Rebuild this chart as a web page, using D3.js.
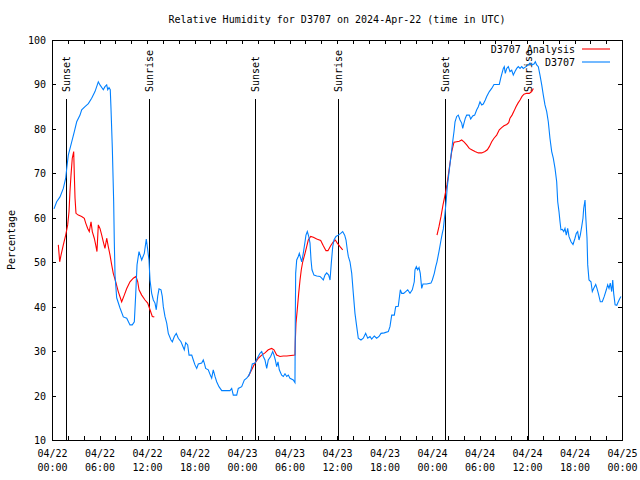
<!DOCTYPE html>
<html><head><meta charset="utf-8">
<script src="https://cdn.jsdelivr.net/npm/d3@7"></script>
<style>
body{margin:0;background:#fff}
svg text{font-family:"DejaVu Sans Mono","Liberation Mono",monospace;font-size:10px;fill:#000}
</style></head><body>
<svg id="c" width="640" height="480"></svg>
<script>
// ---- data (hours since 2024-04-22 00:00 UTC) ----
const startUTC = Date.UTC(2024, 3, 22, 0, 0);
const endUTC = Date.UTC(2024, 3, 25, 0, 0);
const yTicks = [10, 20, 30, 40, 50, 60, 70, 80, 90, 100];
const seriesNames = ["D3707 Analysis", "D3707"];
const sunEventHours = [1.8, 12.3, 25.7, 36.2, 49.7, 60.2];
const sunEventLabels = ["Sunset", "Sunrise", "Sunset", "Sunrise", "Sunset", "Sunrise"];
const sunLineTopValue = 86.7;

const stationHours = [0.25,0.59,1.01,1.43,1.73,1.86,2.06,2.49,2.82,3.12,3.54,3.75,4.17,4.59,5.01,5.43,5.85,6.06,6.48,6.69,6.91,7.04,7.20,7.36,7.45,7.62,7.79,7.87,7.96,8.17,8.59,9.01,9.44,9.85,10.14,10.40,10.57,10.74,10.99,11.33,11.66,11.91,12.09,12.25,12.38,12.59,12.80,13.01,13.17,13.35,13.52,13.77,13.93,14.06,14.27,14.49,14.69,15.03,15.20,15.45,15.70,15.95,16.29,16.55,16.71,16.89,17.14,17.31,17.65,17.85,18.06,18.28,18.48,18.91,19.11,19.24,19.41,19.74,20.00,20.17,20.37,20.59,20.80,21.09,21.44,21.85,22.48,22.70,22.90,23.33,23.53,23.96,24.29,24.59,24.88,25.14,25.30,25.64,25.93,26.27,26.49,26.69,26.90,27.12,27.32,27.62,27.88,28.04,28.21,28.38,28.55,28.71,29.01,29.22,29.43,29.65,29.85,30.06,30.48,30.69,30.73,30.78,30.91,31.11,31.24,31.41,31.54,31.74,31.96,32.08,32.25,32.43,32.59,32.72,32.84,33.09,33.44,33.85,34.07,34.27,34.48,34.70,34.95,35.12,35.28,35.46,35.62,35.87,36.16,36.47,36.72,36.97,37.14,37.30,37.43,37.64,37.86,38.06,38.27,38.49,38.69,39.03,39.32,39.62,39.88,40.17,40.38,40.71,41.01,41.31,41.56,41.97,42.48,42.69,42.91,43.24,43.41,43.74,44.00,44.17,44.42,44.68,44.93,45.22,45.51,45.76,45.85,46.02,46.19,46.36,46.52,46.70,46.86,47.33,47.87,48.04,48.29,48.47,48.63,48.88,49.14,49.30,49.43,49.64,49.80,49.93,50.06,50.36,50.61,50.78,50.91,51.12,51.32,51.54,51.75,51.88,52.04,52.21,52.38,52.71,52.89,53.14,53.39,53.65,53.85,54.06,54.28,54.48,54.73,54.91,55.24,55.54,55.83,56.17,56.50,56.68,56.84,57.01,57.13,57.26,57.44,57.64,57.85,58.07,58.27,58.48,58.70,58.90,59.12,59.33,59.53,59.87,60.16,60.38,60.63,60.88,61.05,61.22,61.43,61.64,61.86,62.06,62.27,62.49,62.69,62.90,63.12,63.32,63.54,63.75,63.88,64.04,64.17,64.29,64.46,64.64,64.80,64.96,65.14,65.30,65.56,65.81,66.06,66.23,66.40,66.57,66.73,66.91,67.07,67.16,67.33,67.41,67.58,67.67,67.83,68.08,68.25,68.42,68.68,68.84,69.01,69.26,69.51,69.76,70.02,70.19,70.36,70.52,70.70,70.83,70.95,71.13,71.34,71.53,71.74,71.87];
const stationValues = [62.0,63.6,64.7,66.6,68.9,71.1,74.1,77.1,79.4,81.6,83.1,84.3,85.0,85.7,86.9,88.4,90.6,89.9,88.8,89.5,89.9,88.8,89.3,88.8,84.7,75.7,63.6,54.6,47.1,42.0,39.7,37.7,37.4,35.9,35.9,36.6,42.6,49.4,52.4,50.5,52.0,55.2,52.8,50.5,46.0,43.0,41.5,40.8,39.3,42.3,44.0,43.8,42.3,40.0,37.8,36.3,34.0,32.5,32.1,33.3,34.0,32.9,32.1,31.0,30.3,31.9,31.4,29.1,29.1,28.0,26.9,26.1,27.1,27.3,28.0,27.3,26.1,25.8,24.6,23.9,25.8,24.3,23.1,22.0,21.1,21.1,21.1,21.6,20.1,20.1,21.6,22.0,23.5,23.9,24.6,25.8,27.1,27.3,28.4,29.5,29.9,28.8,28.0,26.1,28.0,28.8,29.9,29.1,28.0,26.5,27.6,25.8,24.6,24.3,24.9,24.3,24.6,23.9,23.5,22.9,36.3,47.5,50.5,51.3,52.0,50.9,50.1,52.0,54.6,56.1,56.9,55.8,54.3,50.5,48.3,47.1,46.9,46.8,46.4,46.0,47.1,47.6,47.1,46.0,49.8,53.5,55.0,55.8,56.1,56.5,56.9,56.1,55.0,52.8,51.3,50.1,47.5,43.0,38.5,35.5,32.9,32.5,32.9,34.0,32.9,33.3,32.7,33.4,32.9,33.3,34.0,34.1,34.4,35.5,38.1,38.1,40.0,40.1,43.8,43.0,43.0,43.4,43.8,43.0,43.8,45.6,48.3,49.0,48.3,48.8,47.5,44.1,45.1,45.1,45.3,46.0,47.5,49.0,50.1,52.4,55.0,56.5,57.5,61.0,64.0,67.0,68.9,73.4,77.1,79.4,81.6,82.8,83.1,82.0,81.3,80.1,81.3,82.4,83.1,83.1,82.2,82.9,83.1,84.3,85.0,86.1,85.4,85.6,86.5,87.3,88.4,89.1,90.0,90.0,90.0,91.4,92.5,93.6,94.0,92.5,93.6,94.0,92.9,93.2,92.1,92.9,93.6,94.0,93.6,94.0,93.6,94.0,94.4,94.8,94.4,94.6,95.1,94.4,94.0,92.1,89.9,87.6,85.4,83.9,81.6,77.9,74.9,73.4,71.1,68.1,63.6,61.4,59.1,57.3,57.4,56.9,57.6,56.1,57.6,55.8,54.6,54.0,55.4,56.5,56.9,55.0,56.1,58.0,59.9,62.1,64.0,60.6,55.4,49.4,46.0,45.6,43.4,44.1,45.0,44.1,43.0,41.1,41.1,42.3,43.8,44.9,44.1,45.3,43.4,46.0,43.0,40.4,40.3,41.1,41.9,42.3];

// analysis series; null marks a gap between analysis runs
const analysisHours = [0.80,0.97,1.14,1.43,1.73,1.98,2.15,2.27,2.40,2.56,2.74,2.82,2.91,3.03,3.32,3.75,4.08,4.26,4.51,4.71,4.93,5.09,5.34,5.52,5.68,5.85,6.06,6.28,6.48,6.69,6.91,7.11,7.33,7.54,7.74,8.05,8.37,8.80,9.13,9.44,9.85,10.27,10.61,10.83,10.99,11.33,11.75,12.09,12.38,12.67,12.92,
  null,
  24.80,25.22,25.64,26.06,26.49,26.90,27.32,27.75,28.04,28.38,28.80,29.22,29.65,30.69,30.73,30.82,30.98,31.16,31.33,31.49,31.67,31.96,32.17,32.37,32.68,33.01,33.44,33.94,34.27,34.61,34.86,35.20,35.53,35.79,36.04,36.38,36.72,
  null,
  48.63,48.88,49.14,49.39,49.64,49.89,50.18,50.49,50.78,51.12,51.45,51.75,52.04,52.38,52.71,53.01,53.43,53.85,54.28,54.69,54.99,55.24,55.54,55.83,56.17,56.50,56.80,57.09,57.44,57.69,57.85,58.11,58.36,58.61,58.86,59.12,59.37,59.62,59.96,60.29,60.59,60.80];
const analysisValues = [53.9,50.1,51.6,53.9,56.1,58.4,61.4,65.9,69.6,73.4,74.9,69.6,64.4,61.0,60.6,60.3,59.9,58.8,57.6,56.9,59.1,56.9,55.4,53.9,52.4,58.4,57.6,56.1,54.6,53.1,55.4,53.5,51.6,49.4,47.5,45.6,43.4,41.1,42.6,44.1,45.6,46.4,46.8,45.6,43.8,42.6,41.5,40.8,39.3,37.8,37.7,
  null,
  24.3,25.8,27.3,28.4,29.1,29.6,30.3,30.6,30.3,29.1,28.8,28.9,28.9,29.1,32.1,36.3,39.3,43.0,46.0,48.3,50.1,52.0,53.5,55.0,55.8,55.6,55.2,54.9,53.7,52.6,52.6,53.7,54.6,55.0,54.3,53.5,52.8,
  null,
  56.1,58.0,60.3,62.9,65.1,67.4,71.1,74.9,77.0,77.1,77.2,77.5,77.1,76.4,75.6,75.3,74.9,74.6,74.6,74.9,75.3,76.0,77.1,77.9,78.6,79.8,80.3,80.7,81.0,81.4,82.4,83.1,84.0,85.0,85.8,86.5,87.3,87.8,88.0,88.0,88.4,89.1];

const seriesColors = ["#ff0000", "#0080ff"];

// ---- drawing ----
const W = 640, H = 480;
const margin = {top: 40, right: 18, bottom: 40, left: 52};
const svg = d3.select("#c");
const toDate = h => new Date(startUTC + h * 3600e3);

const x = d3.scaleUtc().domain([new Date(startUTC), new Date(endUTC)]).range([margin.left, W - margin.right]);
const y = d3.scaleLinear().domain([10, 100]).range([H - margin.bottom, margin.top]);

svg.append("rect").attr("width", W).attr("height", H).attr("fill", "#fff");

// title
svg.append("text").attr("x", (margin.left + W - margin.right) / 2).attr("y", 23)
  .attr("text-anchor", "middle").text("Relative Humidity for D3707 on 2024-Apr-22 (time in UTC)");

// y label
svg.append("text").attr("transform", `translate(15,${(margin.top + H - margin.bottom) / 2}) rotate(-90)`)
  .attr("text-anchor", "middle").text("Percentage");

// x ticks (2h) bottom and top
const minorTicks = d3.utcHour.every(2).range(new Date(startUTC), new Date(endUTC + 1));
const gxb = svg.append("g").attr("transform", `translate(0,${H - margin.bottom})`)
  .call(d3.axisBottom(x).tickValues(minorTicks).tickSize(-4).tickFormat(""));
const gxt = svg.append("g").attr("transform", `translate(0,${margin.top})`)
  .call(d3.axisTop(x).tickValues(minorTicks).tickSize(-4).tickFormat(""));
[gxb, gxt].forEach(g => { g.select(".domain").remove(); g.selectAll("line").attr("stroke", "#000").attr("shape-rendering", "crispEdges"); });

// x labels (6h)
const majorTicks = d3.utcHour.every(6).range(new Date(startUTC), new Date(endUTC + 1));
const fmtD = d3.utcFormat("%m/%d"), fmtT = d3.utcFormat("%H:%M");
const gxl = svg.append("g").attr("transform", `translate(0,${H - margin.bottom})`)
  .call(d3.axisBottom(x).tickValues(majorTicks).tickSize(0).tickFormat(""));
gxl.select(".domain").remove();
gxl.selectAll(".tick text").each(function(d) {
  const t = d3.select(this).attr("y", 17).attr("dy", null)
    .attr("font-family", null).attr("font-size", null).attr("fill", null);
  t.append("tspan").attr("x", 0).text(fmtD(d));
  t.append("tspan").attr("x", 0).attr("dy", 14).text(fmtT(d));
});

// y ticks left and right
const gyl = svg.append("g").attr("transform", `translate(${margin.left},0)`)
  .call(d3.axisLeft(y).tickValues(yTicks).tickSize(-4).tickPadding(10).tickFormat(d3.format("d")));
const gyr = svg.append("g").attr("transform", `translate(${W - margin.right},0)`)
  .call(d3.axisRight(y).tickValues(yTicks).tickSize(-4).tickFormat(""));
[gyl, gyr].forEach(g => { g.select(".domain").remove(); g.selectAll("line").attr("stroke", "#000").attr("shape-rendering", "crispEdges"); });
gyl.selectAll("text").attr("font-family", null).attr("font-size", null).attr("fill", null).attr("x", -6).attr("dy", "0.35em");

// sunrise / sunset markers
const sunG = svg.append("g");
sunEventHours.forEach((h, i) => {
  const xx = x(toDate(h));
  sunG.append("line").attr("x1", xx).attr("x2", xx).attr("y1", y(sunLineTopValue)).attr("y2", y(10))
    .attr("stroke", "#000").attr("stroke-width", 1).attr("shape-rendering", "crispEdges");
  sunG.append("text").attr("transform", `translate(${xx + 3.5},${y(sunLineTopValue) - 7}) rotate(-90)`)
    .attr("text-anchor", "start").text(sunEventLabels[i]);
});

// lines
const line = d3.line().defined(d => d[1] !== null).x(d => x(toDate(d[0]))).y(d => y(d[1]));
const analysisData = analysisHours.map((h, i) => [h, analysisValues[i]]);
const stationData = stationHours.map((h, i) => [h, stationValues[i]]);
svg.append("path").datum(analysisData).attr("d", line).attr("fill", "none")
  .attr("stroke", seriesColors[0]).attr("stroke-width", 1.1);
svg.append("path").datum(stationData).attr("d", line).attr("fill", "none")
  .attr("stroke", seriesColors[1]).attr("stroke-width", 1.1);

// frame
svg.append("rect").attr("x", margin.left).attr("y", margin.top)
  .attr("width", W - margin.left - margin.right).attr("height", H - margin.top - margin.bottom)
  .attr("fill", "none").attr("stroke", "#000").attr("shape-rendering", "crispEdges");

// legend
const leg = svg.append("g");
seriesNames.forEach((n, i) => {
  const yy = 49 + i * 13;
  leg.append("text").attr("x", 575).attr("y", yy + 3.5).attr("text-anchor", "end").text(n);
  leg.append("line").attr("x1", 582).attr("x2", 610).attr("y1", yy).attr("y2", yy)
    .attr("stroke", seriesColors[i]).attr("stroke-width", 1.1);
});
</script></body></html>
